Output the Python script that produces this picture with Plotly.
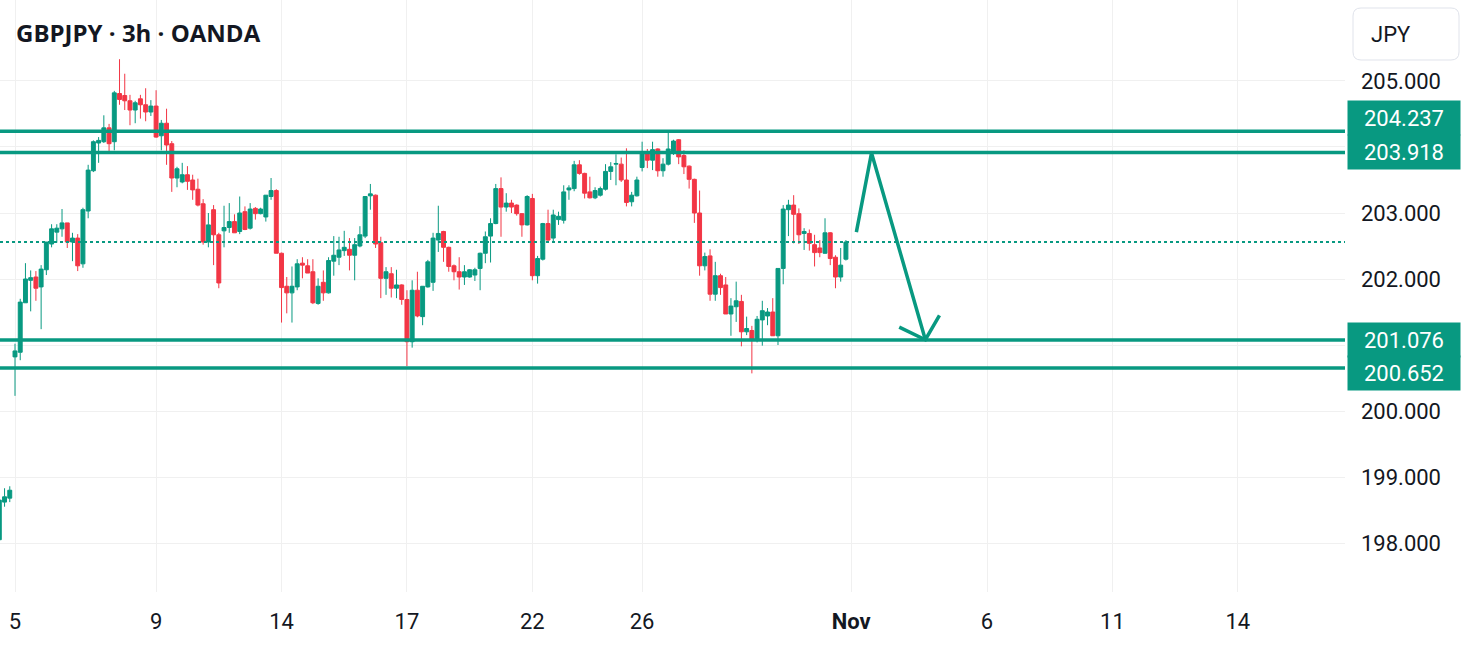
import plotly.graph_objects as go

UP = "#089981"
DOWN = "#F23645"
TEXT = "#131722"
GRID = "#f0f0f0"

# ---- data (3h bars, index 0 = first bar of the Oct 5 session) ----
bar_index = list(range(-3, 160))
opens = [198.05, 198.62, 198.68,
         200.82, 200.89, 201.64, 201.98, 202.03, 201.88, 202.14, 202.53, 202.71, 202.76,
         202.85, 202.56, 202.62, 202.23, 203.03, 203.64, 204.06, 204.08, 204.29, 204.08,
         204.81, 204.78, 204.70, 204.56, 204.73, 204.64, 204.53, 204.62, 204.17, 204.36,
         204.05, 203.53, 203.47, 203.58, 203.50, 203.36, 203.14, 202.56, 203.05, 202.67,
         202.73, 202.78, 202.87, 202.72, 203.02, 202.77, 203.07, 202.99, 202.94, 203.25,
         203.34, 202.39, 201.89, 201.79, 201.88, 202.24, 202.20, 202.11, 201.63, 201.95,
         201.79, 202.27, 202.33, 202.43, 202.45, 202.36, 202.50, 202.65, 203.26, 203.27,
         202.55, 202.01, 202.08, 201.86, 201.91, 201.69, 201.05, 201.83, 201.43, 201.88,
         201.95, 202.59, 202.72, 202.48, 202.20, 202.11, 202.03, 202.03, 202.06, 202.16,
         202.39, 202.65, 202.84, 203.37, 203.09, 203.15, 203.12, 202.99, 202.82, 203.22,
         202.05, 202.30, 202.84, 202.62, 202.90, 202.89, 203.35, 203.37, 203.73, 203.60,
         203.32, 203.23, 203.27, 203.36, 203.63, 203.74, 203.74, 203.50, 203.17, 203.26,
         203.69, 203.93, 203.80, 203.97, 203.64, 203.74, 203.94, 204.11, 203.87, 203.71,
         203.51, 203.00, 202.20, 202.35, 201.77, 202.05, 201.91, 201.47, 201.58, 201.66,
         201.20, 201.22, 201.09, 201.38, 201.44, 201.50, 201.14, 202.16, 203.05, 203.12,
         202.99, 202.69, 202.69, 202.52, 202.47, 202.39, 202.70, 202.33, 202.03, 202.30]
highs = [198.68, 198.83, 198.86,
         201.02, 201.70, 202.24, 202.13, 202.12, 202.21, 202.56, 202.83, 202.83, 203.06,
         202.85, 202.70, 202.68, 203.08, 203.73, 204.10, 204.15, 204.48, 204.35, 204.85,
         205.33, 205.11, 204.79, 204.70, 204.79, 204.89, 204.71, 204.86, 204.41, 204.58,
         204.09, 203.70, 203.76, 203.71, 203.58, 203.52, 203.21, 203.00, 203.12, 202.70,
         203.11, 203.15, 202.98, 203.25, 203.10, 203.15, 203.09, 203.08, 203.27, 203.53,
         203.36, 202.40, 202.03, 202.19, 202.30, 202.33, 202.30, 202.30, 202.01, 202.13,
         202.33, 202.65, 202.64, 202.73, 202.62, 202.62, 202.80, 203.25, 203.44, 203.28,
         202.64, 202.18, 202.18, 202.14, 201.92, 201.83, 201.98, 202.11, 201.89, 202.29,
         202.70, 203.11, 202.73, 202.49, 202.22, 202.33, 202.21, 202.15, 202.17, 202.40,
         202.72, 202.92, 203.44, 203.54, 203.30, 203.20, 203.13, 203.00, 203.27, 203.29,
         202.35, 202.85, 203.05, 203.05, 203.02, 203.42, 203.42, 203.79, 203.80, 203.61,
         203.55, 203.39, 203.40, 203.74, 203.77, 203.89, 203.84, 203.98, 203.32, 203.55,
         204.08, 203.97, 204.08, 203.98, 203.83, 204.23, 204.11, 204.12, 203.95, 203.72,
         203.52, 203.34, 202.40, 202.45, 202.26, 202.08, 202.03, 201.71, 201.96, 201.76,
         201.43, 201.29, 201.44, 201.67, 201.56, 201.71, 202.16, 203.12, 203.20, 203.27,
         203.07, 202.77, 202.75, 202.67, 202.59, 202.92, 202.71, 202.36, 202.47, 202.59]
lows = [197.98, 198.55, 198.62,
        200.23, 200.77, 201.64, 201.51, 201.67, 201.24, 202.06, 202.48, 202.55, 202.64,
        202.47, 202.27, 202.12, 202.17, 202.92, 203.62, 203.76, 204.06, 203.91, 203.95,
        204.64, 204.56, 204.33, 204.36, 204.43, 204.39, 204.47, 204.14, 203.95, 203.73,
        203.32, 203.39, 203.45, 203.35, 203.20, 203.10, 202.52, 202.48, 202.21, 201.86,
        202.48, 202.70, 202.70, 202.68, 202.74, 202.75, 202.90, 202.98, 202.87, 203.20,
        202.39, 201.34, 201.48, 201.34, 201.83, 202.01, 202.09, 201.62, 201.61, 201.67,
        201.78, 202.05, 202.21, 202.35, 202.13, 201.98, 202.48, 202.62, 203.05, 202.47,
        201.71, 201.76, 201.72, 201.71, 201.61, 200.68, 200.96, 201.42, 201.30, 201.87,
        201.82, 202.41, 202.26, 202.11, 201.98, 201.84, 201.91, 202.02, 201.97, 201.83,
        202.24, 202.25, 202.83, 202.64, 203.02, 203.00, 202.96, 202.64, 202.81, 201.98,
        201.93, 202.28, 202.55, 202.55, 202.82, 202.84, 203.20, 203.33, 203.58, 203.22,
        203.22, 203.21, 203.25, 203.34, 203.50, 203.42, 203.47, 203.10, 203.10, 203.25,
        203.63, 203.68, 203.65, 203.55, 203.55, 203.72, 203.88, 203.74, 203.59, 203.37,
        202.85, 202.05, 202.13, 201.67, 201.67, 201.76, 201.47, 201.14, 201.35, 200.98,
        201.15, 200.57, 201.04, 200.99, 201.30, 201.14, 201.00, 201.92, 202.65, 202.54,
        202.53, 202.44, 202.43, 202.19, 202.33, 202.38, 202.21, 201.86, 201.96, 202.28]
closes = [198.65, 198.70, 198.80,
          200.91, 201.65, 202.00, 202.02, 201.86, 202.15, 202.56, 202.76, 202.77, 202.85,
          202.56, 202.62, 202.20, 203.05, 203.65, 204.08, 204.10, 204.29, 204.05, 204.82,
          204.72, 204.70, 204.56, 204.67, 204.64, 204.53, 204.62, 204.15, 204.36, 204.03,
          203.53, 203.67, 203.58, 203.48, 203.35, 203.12, 202.56, 202.82, 202.67, 201.94,
          202.78, 202.87, 202.70, 203.00, 202.75, 203.06, 202.99, 203.06, 203.27, 203.34,
          202.39, 201.87, 201.79, 201.89, 202.23, 202.21, 202.09, 201.64, 201.89, 201.79,
          202.28, 202.36, 202.44, 202.48, 202.36, 202.52, 202.67, 203.25, 203.29, 202.53,
          202.01, 202.11, 201.86, 201.91, 201.69, 201.05, 201.83, 201.44, 201.89, 202.26,
          202.62, 202.69, 202.48, 202.19, 202.11, 202.03, 202.11, 202.14, 202.14, 202.39,
          202.64, 202.84, 203.37, 203.09, 203.15, 203.09, 202.99, 202.82, 203.25, 202.05,
          202.31, 202.84, 202.59, 202.97, 202.95, 203.32, 203.38, 203.73, 203.60, 203.30,
          203.23, 203.34, 203.37, 203.63, 203.70, 203.75, 203.50, 203.16, 203.27, 203.50,
          203.93, 203.80, 203.96, 203.64, 203.74, 203.97, 204.09, 203.85, 203.70, 203.51,
          203.00, 202.20, 202.34, 201.77, 202.05, 201.87, 201.47, 201.59, 201.67, 201.20,
          201.25, 201.09, 201.39, 201.52, 201.50, 201.14, 202.16, 203.06, 203.12, 202.98,
          202.67, 202.72, 202.54, 202.40, 202.40, 202.70, 202.31, 202.03, 202.21, 202.56]

levels = [204.237, 203.918, 201.076, 200.652]
level_label_shift = [13, 0, 0, -5]   # label boxes pushed apart like the original

x_tick_bars = [0, 27, 51, 75, 99, 120, 160, 186, 210, 234]
x_tick_text = ["5", "9", "14", "17", "22", "26", "<b>Nov</b>", "6", "11", "14"]
y_tick_vals = [198, 199, 200, 201, 202, 203, 204, 205]
y_tick_text = ["198.000", "199.000", "200.000", "", "202.000", "203.000", "", "205.000"]

# hand-drawn projection arrow (bar index, price)
arrow_x = [161.0, 163.9, 174.2]
arrow_y = [202.71, 203.91, 201.08]
head_x = [169.2, 174.2, 176.9]
head_y = [201.27, 201.08, 201.45]

X_RANGE = [-2.87, 254.5]
Y_RANGE = [197.258, 206.227]

# ---- figure ----
PLOT_W, PLOT_H = 1345, 592


def px_to_paper(px, py):
    return px / PLOT_W, 1 - py / PLOT_H


def rounded_rect(x0, y0, x1, y1, r):
    def P(x, y):
        a, b = px_to_paper(x, y)
        return f"{a:.5f},{b:.5f}"
    return (f"M {P(x0 + r, y0)} L {P(x1 - r, y0)} Q {P(x1, y0)} {P(x1, y0 + r)} "
            f"L {P(x1, y1 - r)} Q {P(x1, y1)} {P(x1 - r, y1)} L {P(x0 + r, y1)} "
            f"Q {P(x0, y1)} {P(x0, y1 - r)} L {P(x0, y0 + r)} Q {P(x0, y0)} {P(x0 + r, y0)} Z")


fig = go.Figure()
fig.add_trace(go.Candlestick(
    x=bar_index, open=opens, high=highs, low=lows, close=closes,
    increasing=dict(line=dict(color=UP, width=1), fillcolor=UP),
    decreasing=dict(line=dict(color=DOWN, width=1), fillcolor=DOWN),
    whiskerwidth=0, showlegend=False, hoverinfo="skip"))

fig.add_trace(go.Scatter(x=arrow_x, y=arrow_y, mode="lines",
                         line=dict(color=UP, width=3.5), hoverinfo="skip", showlegend=False))
fig.add_trace(go.Scatter(x=head_x, y=head_y, mode="lines",
                         line=dict(color=UP, width=3.5), hoverinfo="skip", showlegend=False))

shapes = []
for lv in levels:
    shapes.append(dict(type="line", xref="paper", x0=0, x1=1, yref="y", y0=lv, y1=lv,
                       line=dict(color=UP, width=3.5), layer="above"))
shapes.append(dict(type="line", xref="paper", x0=0, x1=1, yref="y",
                   y0=closes[-1], y1=closes[-1],
                   line=dict(color=UP, width=2, dash="dot"), layer="above"))
shapes.append(dict(type="path", xref="paper", yref="paper",
                   path=rounded_rect(1353, 8, 1459, 60, 8),
                   line=dict(color="#e0e3eb", width=1), fillcolor="white", layer="above"))

annotations = []
for lv, sh in zip(levels, level_label_shift):
    annotations.append(dict(
        text=f"{lv:.3f}", xref="paper", x=1347 / PLOT_W, xanchor="left",
        yref="y", y=lv, yanchor="middle", yshift=sh, showarrow=False,
        width=108, height=30, borderpad=2, bgcolor=UP, align="center",
        font=dict(family="Roboto", size=22, color="white")))

tx, ty = px_to_paper(14, 33)
annotations.append(dict(text="<b>GBPJPY · 3h · OANDA</b>", xref="paper", yref="paper",
                        x=tx, y=ty, xanchor="left", yanchor="middle", showarrow=False,
                        font=dict(family="Open Sans", size=24, color=TEXT)))
jx, jy = px_to_paper(1391, 34)
annotations.append(dict(text="JPY", xref="paper", yref="paper", x=jx, y=jy,
                        xanchor="center", yanchor="middle", showarrow=False,
                        font=dict(family="Roboto", size=22, color=TEXT)))

fig.update_layout(
    width=1468, height=648,
    margin=dict(l=0, r=123, t=0, b=56),
    paper_bgcolor="white", plot_bgcolor="white",
    boxgap=0.25, boxgroupgap=0,
    shapes=shapes, annotations=annotations,
    showlegend=False,
    xaxis=dict(range=X_RANGE, rangeslider=dict(visible=False),
               tickmode="array", tickvals=x_tick_bars, ticktext=x_tick_text,
               showgrid=True, gridcolor=GRID, gridwidth=1, zeroline=False, showline=False,
               ticks="", ticklabelstandoff=14,
               tickfont=dict(family="Roboto", size=22, color=TEXT)),
    yaxis=dict(range=Y_RANGE, side="right", tickmode="array",
               tickvals=y_tick_vals, ticktext=y_tick_text,
               showgrid=True, gridcolor=GRID, gridwidth=1, zeroline=False, showline=False,
               ticks="", ticklabelstandoff=15,
               tickfont=dict(family="Roboto", size=22, color=TEXT)),
)

fig.write_html("out.html")
